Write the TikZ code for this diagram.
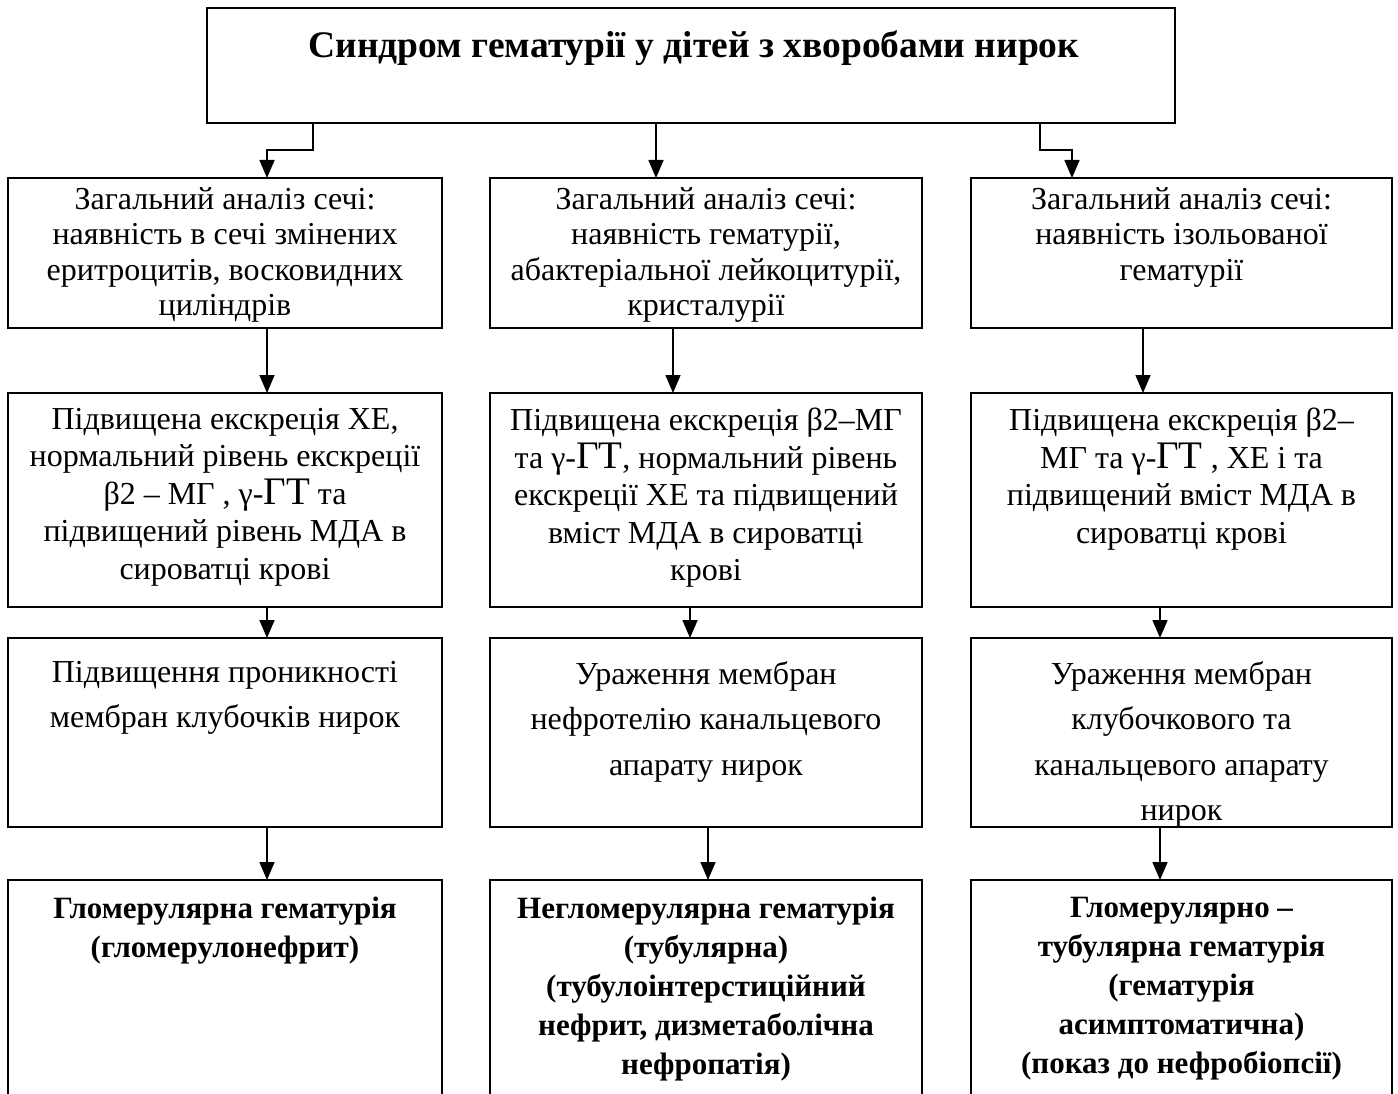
\documentclass[tikz,border=0pt]{standalone}
\usepackage{fontspec}
\setmainfont{Liberation Serif}
\usetikzlibrary{arrows.meta}
\newcommand{\bigGT}{{\fontsize{39}{39}\selectfont ГТ}}
\begin{document}
\begin{tikzpicture}[x=1pt,y=-1pt,
  box/.style={draw, line width=1.6pt, inner sep=0pt, outer sep=0pt},
  txt/.style={anchor=north, inner sep=0pt, align=center},
  fA/.style={font=\fontsize{32}{35.5}\selectfont},
  fB/.style={font=\fontsize{32}{37.5}\selectfont},
  fC/.style={font=\fontsize{32}{45.5}\selectfont},
  fD/.style={font=\fontsize{31}{39}\selectfont\bfseries},
  arr/.style={line width=1.6pt, -{Triangle[length=18pt,width=15pt]}}]
\clip (0,0) rectangle (1398,1094);
\fill[white] (0,0) rectangle (1398,1094);
% boxes
\node[box, minimum width=968pt, minimum height=115pt] (top) at (691,65.5) {};
\node[box, minimum width=434pt, minimum height=150pt] (L1) at (225,253) {};
\node[box, minimum width=432pt, minimum height=150pt] (M1) at (706,253) {};
\node[box, minimum width=421pt, minimum height=150pt] (R1) at (1181.5,253) {};
\node[box, minimum width=434pt, minimum height=214pt] (L2) at (225,500) {};
\node[box, minimum width=432pt, minimum height=214pt] (M2) at (706,500) {};
\node[box, minimum width=421pt, minimum height=214pt] (R2) at (1181.5,500) {};
\node[box, minimum width=434pt, minimum height=189pt] (L3) at (225,732.5) {};
\node[box, minimum width=432pt, minimum height=189pt] (M3) at (706,732.5) {};
\node[box, minimum width=421pt, minimum height=189pt] (R3) at (1181.5,732.5) {};
\node[box, minimum width=434pt, minimum height=240pt] (L4) at (225,1000) {};
\node[box, minimum width=432pt, minimum height=240pt] (M4) at (706,1000) {};
\node[box, minimum width=421pt, minimum height=240pt] (R4) at (1181.5,1000) {};
% texts
\node[txt, font=\fontsize{37.5}{40}\selectfont\bfseries] (ttop) at (694,30) {Синдром гематурії у дітей з хворобами нирок};
\node[txt, fA] (tL1) at (225,187) {Загальний аналіз сечі:\\наявність в сечі змінених\\еритроцитів, восковидних\\циліндрів};
\node[txt, fA] (tM1) at (706,187) {Загальний аналіз сечі:\\наявність гематурії,\\абактеріальної лейкоцитурії,\\кристалурії};
\node[txt, fA] (tR1) at (1181.5,187) {Загальний аналіз сечі:\\наявність ізольованої\\гематурії};
\node[txt, fB] (tL2) at (225,408) {Підвищена екскреція ХЕ,\\нормальний рівень екскреції\\β2 – МГ , γ-\bigGT{} та\\підвищений рівень МДА в\\сироватці крові};
\node[txt, fB] (tM2) at (706,408) {Підвищена екскреція β2–МГ\\та γ-\bigGT, нормальний рівень\\екскреції ХЕ та підвищений\\вміст МДА в сироватці\\крові};
\node[txt, fB] (tR2) at (1181.5,408) {Підвищена екскреція β2–\\МГ та γ-\bigGT{} , ХЕ і та\\підвищений вміст МДА в\\сироватці крові};
\node[txt, fC] (tL3) at (225,661) {Підвищення проникності\\мембран клубочків нирок};
\node[txt, fC] (tM3) at (706,661) {Ураження мембран\\нефротелію канальцевого\\апарату нирок};
\node[txt, fC] (tR3) at (1181.5,661) {Ураження мембран\\клубочкового та\\канальцевого апарату\\нирок};
\node[txt, fD] (tL4) at (225,897) {Гломерулярна гематурія\\(гломерулонефрит)};
\node[txt, fD] (tM4) at (706,897) {Негломерулярна гематурія\\(тубулярна)\\(тубулоінтерстиційний\\нефрит, дизметаболічна\\нефропатія)};
\node[txt, fD] (tR4) at (1181.5,897) {Гломерулярно –\\тубулярна гематурія\\(гематурія\\асимптоматична)\\(показ до нефробіопсії)};
% helper coordinates
\coordinate (kL) at (313,150);
\coordinate (kR) at (1040,150);
\coordinate (xA) at (267,0);
\coordinate (xB) at (656,0);
\coordinate (xC) at (673,0);
\coordinate (xD) at (690,0);
\coordinate (xE) at (708,0);
\coordinate (xF) at (1072,0);
\coordinate (xG) at (1143,0);
\coordinate (xH) at (1160,0);
% connectors
\draw[arr] (top.south -| kL) -- (kL) -| (L1.north -| xA);
\draw[arr] (top.south -| xB) -- (M1.north -| xB);
\draw[arr] (top.south -| kR) -- (kR) -| (R1.north -| xF);
\draw[arr] (L1.south -| xA) -- (L2.north -| xA);
\draw[arr] (L2.south -| xA) -- (L3.north -| xA);
\draw[arr] (L3.south -| xA) -- (L4.north -| xA);
\draw[arr] (M1.south -| xC) -- (M2.north -| xC);
\draw[arr] (M2.south -| xD) -- (M3.north -| xD);
\draw[arr] (M3.south -| xE) -- (M4.north -| xE);
\draw[arr] (R1.south -| xG) -- (R2.north -| xG);
\draw[arr] (R2.south -| xH) -- (R3.north -| xH);
\draw[arr] (R3.south -| xH) -- (R4.north -| xH);
\end{tikzpicture}
\end{document}
